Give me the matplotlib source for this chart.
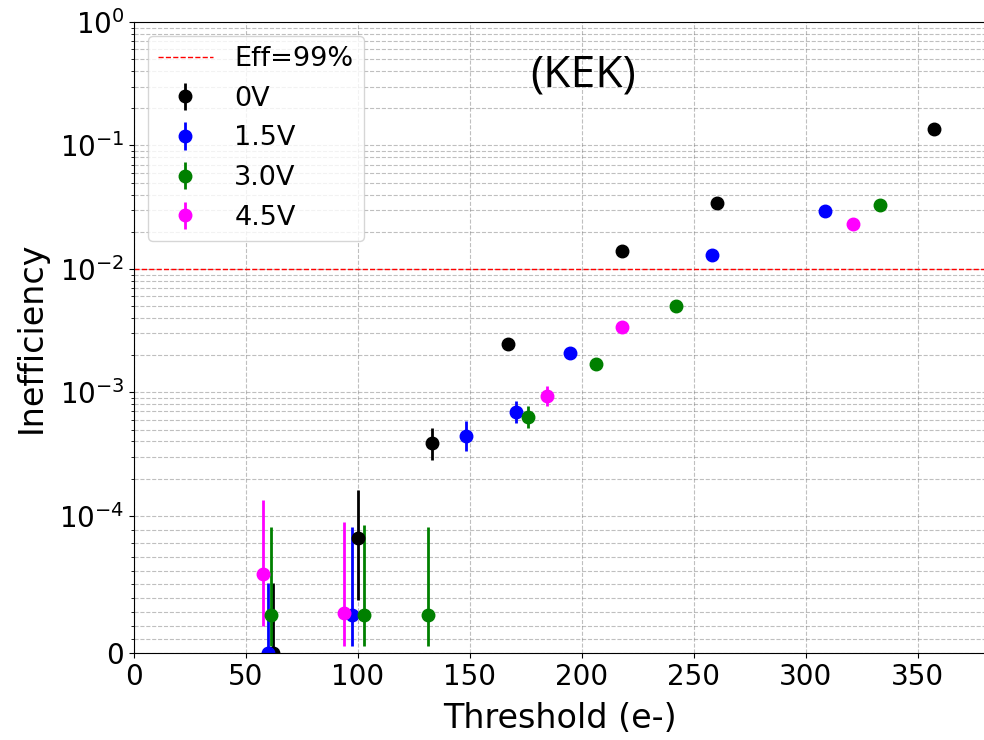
import numpy as np
import matplotlib
matplotlib.use("Agg")
import matplotlib.pyplot as plt
from matplotlib.ticker import FixedLocator

# threshold (e-), inefficiency, lower / upper error bound
x_0v = [62, 100, 133, 167, 218, 260.3, 357]
y_0v = [0, 8.35e-5, 3.86e-4, 2.47e-3, 1.4e-2, 3.42e-2, 0.136]
lo_0v = [0, 3.9e-5, 2.85e-4, 2.47e-3, 1.4e-2, 3.42e-2, 0.136]
hi_0v = [5.1e-5, 1.62e-4, 5.18e-4, 2.47e-3, 1.4e-2, 3.42e-2, 0.136]

x_15v = [59.7, 97.2, 148.4, 170.5, 194.6, 258, 308.6]
y_15v = [0, 2.8e-5, 4.43e-4, 6.89e-4, 2.09e-3, 1.29e-2, 2.93e-2]
lo_15v = [0, 0.5e-5, 3.35e-4, 5.61e-4, 2.09e-3, 1.29e-2, 2.93e-2]
hi_15v = [5.1e-5, 9.2e-5, 5.82e-4, 8.57e-4, 2.09e-3, 1.29e-2, 2.93e-2]

x_30v = [61.2, 102.7, 131.4, 175.7, 206.4, 242.1, 333.2]
y_30v = [2.8e-5, 2.8e-5, 2.8e-5, 6.31e-4, 1.71e-3, 4.99e-3, 3.3e-2]
lo_30v = [0.53e-5, 0.53e-5, 0.53e-5, 5.11e-4, 1.6e-3, 4.99e-3, 3.3e-2]
hi_30v = [9.2e-5, 9.3e-5, 9.2e-5, 7.8e-4, 1.82e-3, 4.99e-3, 3.3e-2]

x_45v = [57.7, 93.6, 184.4, 218, 321]
y_45v = [5.75e-5, 2.9e-5, 9.29e-4, 3.4e-3, 2.3e-2]
lo_45v = [2.0e-5, 0.53e-5, 7.76e-4, 3.4e-3, 2.3e-2]
hi_45v = [1.34e-4, 9.55e-5, 1.12e-3, 3.4e-3, 2.3e-2]

series = [
    ("0V", "black", x_0v, y_0v, lo_0v, hi_0v),
    ("1.5V", "blue", x_15v, y_15v, lo_15v, hi_15v),
    ("3.0V", "green", x_30v, y_30v, lo_30v, hi_30v),
    ("4.5V", "magenta", x_45v, y_45v, lo_45v, hi_45v),
]

fig = plt.figure(figsize=(9.84, 7.4), dpi=100)
ax = fig.add_axes([134/984, 87/740, 852/984, 631/740])

ax.axhline(1e-2, color="red", ls="--", lw=1, label="Eff=99%")
for name, col, x, y, lo, hi in series:
    y = np.array(y)
    yerr = [y - np.array(lo), np.array(hi) - y]
    ax.errorbar(x, y, yerr=yerr, fmt="o", color=col, ms=9, elinewidth=2, label=name)

ax.set_yscale("symlog", linthresh=1e-4, linscale=1)
ax.set_ylim(0, 1)
ax.set_xlim(0, 380.4)
ax.set_yticks([0, 1e-4, 1e-3, 1e-2, 1e-1, 1])
minor = list(np.arange(1, 10) * 1e-5)
for d in [1e-4, 1e-3, 1e-2, 1e-1]:
    minor += list(np.arange(2, 10) * d)
ax.yaxis.set_minor_locator(FixedLocator(minor))
ax.set_xticks(range(0, 351, 50))

ax.grid(True, which="both", ls="--", color="gray", alpha=0.5, lw=0.8)
ax.tick_params(labelsize=20)
ax.set_xlabel("Threshold (e-)", fontsize=24, labelpad=8)
ax.set_ylabel("Inefficiency", fontsize=24, labelpad=8)
ax.text(0.527, 0.915, "(KEK)", transform=ax.transAxes, fontsize=32,
        family="Open Sans", ha="center", va="center")
ax.legend(loc="upper left", fontsize=19.5)

fig.savefig("out.png", dpi=100)
